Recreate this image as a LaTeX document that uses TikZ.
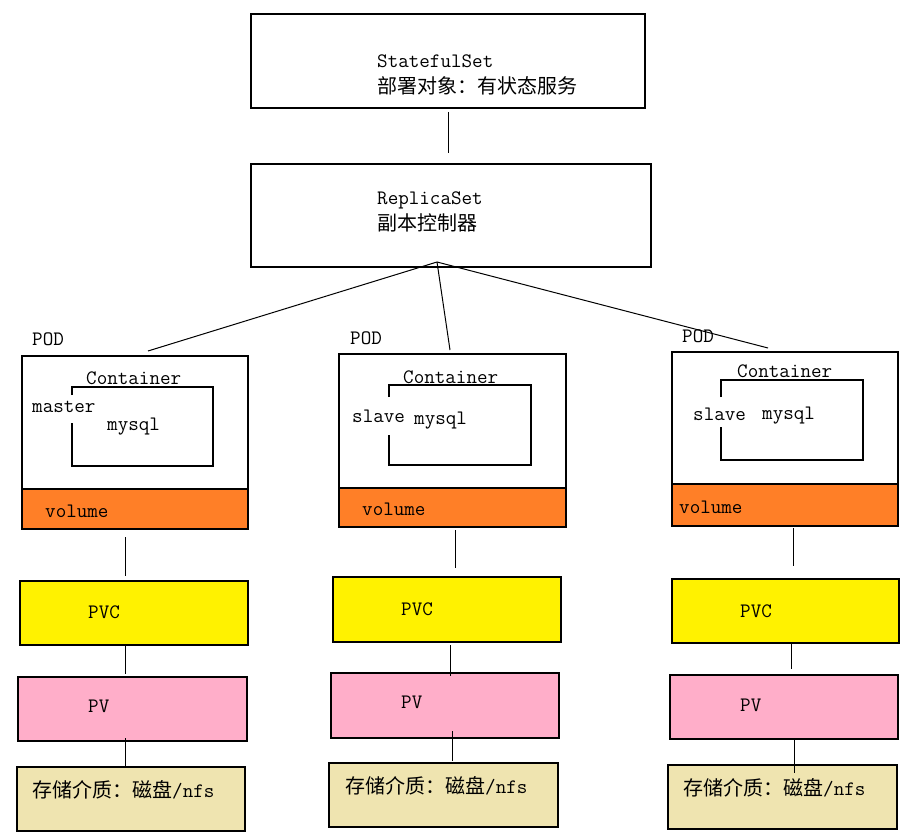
\documentclass[tikz,border=0pt]{standalone}
\usepackage{fontspec}
\newfontfamily\cjk{Noto Sans CJK SC}
\definecolor{volorange}{HTML}{FF7F27}
\definecolor{pvcyellow}{HTML}{FFF200}
\definecolor{pvpink}{HTML}{FFAEC9}
\definecolor{sttan}{HTML}{EFE4B0}
\begin{document}
\begin{tikzpicture}[x=1pt,y=-1pt,
  box/.style={draw, line width=1.1pt, rectangle, inner sep=0pt, outer sep=0pt},
  ghost/.style={draw=none, rectangle, inner sep=0pt, outer sep=0pt},
  link/.style={line width=1pt},
  txt/.style={anchor=base west, inner sep=0pt, font=\ttfamily\fontsize{20.5}{22}\selectfont},
  ctxt/.style={anchor=base west, inner sep=0pt, font=\fontsize{20}{22}\selectfont}
]
\useasboundingbox[fill=white] (0,0) rectangle (908,837);

% top boxes
\node[box, minimum width=394pt, minimum height=94pt] (ss) at (448,61) {};
\node[box, minimum width=400pt, minimum height=103pt] (rs) at (451,215.5) {};
\node[txt] (sst) at (377,68) {StatefulSet};
\node[ctxt] (ssc) at (377,94) {{\cjk 部署对象：有状态服务}};
\node[txt] (rst) at (377,205) {ReplicaSet};
\node[ctxt] (rsc) at (377,231) {{\cjk 副本控制器}};
\draw[link] ([yshift=-4pt]ss.south) -- ([xshift=-3pt,yshift=11pt]rs.north);

% pods
\node[box, minimum width=226pt, minimum height=173pt] (pod1) at (135,442.5) {};
\node[box, fill=volorange, minimum width=226pt, minimum height=40pt] (vol1) at (135,509) {};
\node[ghost, minimum width=141pt, minimum height=79pt] (cont1) at (142.5,426.5) {};
\draw[box] ([yshift=-8pt]cont1.north west) -- (cont1.north west) -- (cont1.north east) -- (cont1.south east) -- (cont1.south west) -- ([yshift=43pt]cont1.south west);

\node[box, minimum width=227pt, minimum height=173pt] (pod2) at (452.5,440.5) {};
\node[box, fill=volorange, minimum width=227pt, minimum height=39pt] (vol2) at (452.5,507.5) {};
\node[ghost, minimum width=142pt, minimum height=80pt] (cont2) at (460,425) {};
\draw[box] ([yshift=-12pt]cont2.north west) -- (cont2.north west) -- (cont2.north east) -- (cont2.south east) -- (cont2.south west) -- ([yshift=30pt]cont2.south west);

\node[box, minimum width=226pt, minimum height=174pt] (pod3) at (785,439) {};
\node[box, fill=volorange, minimum width=226pt, minimum height=42pt] (vol3) at (785,505) {};
\node[ghost, minimum width=142pt, minimum height=80pt] (cont3) at (792,420) {};
\draw[box] ([yshift=-17pt]cont3.north west) -- (cont3.north west) -- (cont3.north east) -- (cont3.south east) -- (cont3.south west) -- ([yshift=33pt]cont3.south west);

% pod texts
\node[txt] (pl1) at (32,345) {POD};
\node[txt] (ct1) at (86,384) {Container};
\node[txt] (ms1) at (32,412) {master};
\node[txt] (my1) at (107,430) {mysql};
\node[txt] (vt1) at (45,517) {volume};

\node[txt] (pl2) at (350,344) {POD};
\node[txt] (ct2) at (403,383) {Container};
\node[txt] (sl2) at (352,422) {slave};
\node[txt] (my2) at (414,424) {mysql};
\node[txt] (vt2) at (362,515) {volume};

\node[txt] (pl3) at (682,342) {POD};
\node[txt] (ct3) at (737,377) {Container};
\node[txt] (sl3) at (693,420) {slave};
\node[txt] (my3) at (762,419) {mysql};
\node[txt] (vt3) at (679,513) {volume};

% hub lines
\coordinate (hub) at (437,262);
\draw[link] (hub) -- ([xshift=13pt,yshift=5pt]pod1.north);
\draw[link] (hub) -- ([xshift=-2.5pt,yshift=4pt]pod2.north);
\draw[link] (hub) -- ([xshift=-17pt,yshift=4pt]pod3.north);

% storage chain 1
\node[box, fill=pvcyellow, minimum width=228pt, minimum height=64pt] (pvc1) at (134,613) {};
\node[box, fill=pvpink, minimum width=229pt, minimum height=64pt] (pv1) at (132.5,709) {};
\node[box, fill=sttan, minimum width=228pt, minimum height=64pt] (st1) at (131,799) {};
\node[txt] (pvct1) at (88,618) {PVC};
\node[txt] (pvt1) at (88,712) {PV};
\node[ctxt] (stt1) at (32,797) {{\cjk 存储介质：磁盘}{\ttfamily\fontsize{20.5}{22}\selectfont /nfs}};
\draw[link] ([xshift=-10pt,yshift=-8pt]vol1.south) -- ([xshift=-9pt,yshift=5pt]pvc1.north);
\draw[link] ([xshift=-9pt]pvc1.south) -- ([xshift=-7.5pt,yshift=3pt]pv1.north);
\draw[link] ([xshift=-7.5pt,yshift=3pt]pv1.south) -- ([xshift=-6pt]st1.north);

% storage chain 2
\node[box, fill=pvcyellow, minimum width=228pt, minimum height=65pt] (pvc2) at (447,609.5) {};
\node[box, fill=pvpink, minimum width=228pt, minimum height=65pt] (pv2) at (445,705.5) {};
\node[box, fill=sttan, minimum width=229pt, minimum height=64pt] (st2) at (443.5,795) {};
\node[txt] (pvct2) at (401,615) {PVC};
\node[txt] (pvt2) at (401,708) {PV};
\node[ctxt] (stt2) at (345,793) {{\cjk 存储介质：磁盘}{\ttfamily\fontsize{20.5}{22}\selectfont /nfs}};
\draw[link] ([xshift=2.5pt,yshift=-3pt]vol2.south) -- ([xshift=8pt,yshift=9pt]pvc2.north);
\draw[link] ([xshift=3pt,yshift=-3pt]pvc2.south) -- ([xshift=5pt,yshift=-3pt]pv2.north);
\draw[link] ([xshift=7pt,yshift=7pt]pv2.south) -- ([xshift=8.5pt,yshift=2pt]st2.north);

% storage chain 3
\node[box, fill=pvcyellow, minimum width=227pt, minimum height=64pt] (pvc3) at (785.5,611) {};
\node[box, fill=pvpink, minimum width=228pt, minimum height=64pt] (pv3) at (784,707) {};
\node[box, fill=sttan, minimum width=229pt, minimum height=64pt] (st3) at (782.5,797) {};
\node[txt] (pvct3) at (740,617) {PVC};
\node[txt] (pvt3) at (740,711) {PV};
\draw[link] ([xshift=8pt,yshift=-2pt]vol3.south) -- ([xshift=7.5pt,yshift=13pt]pvc3.north);
\draw[link] ([xshift=5.5pt]pvc3.south) -- ([xshift=7pt,yshift=6pt]pv3.north);
\draw[link] ([xshift=10pt]pv3.south) -- ([xshift=11.5pt,yshift=-8pt]st3.north);
\node[ctxt] (stt3) at (683,795) {{\cjk 存储介质：磁盘}{\ttfamily\fontsize{20.5}{22}\selectfont /nfs}};
\end{tikzpicture}
\end{document}
